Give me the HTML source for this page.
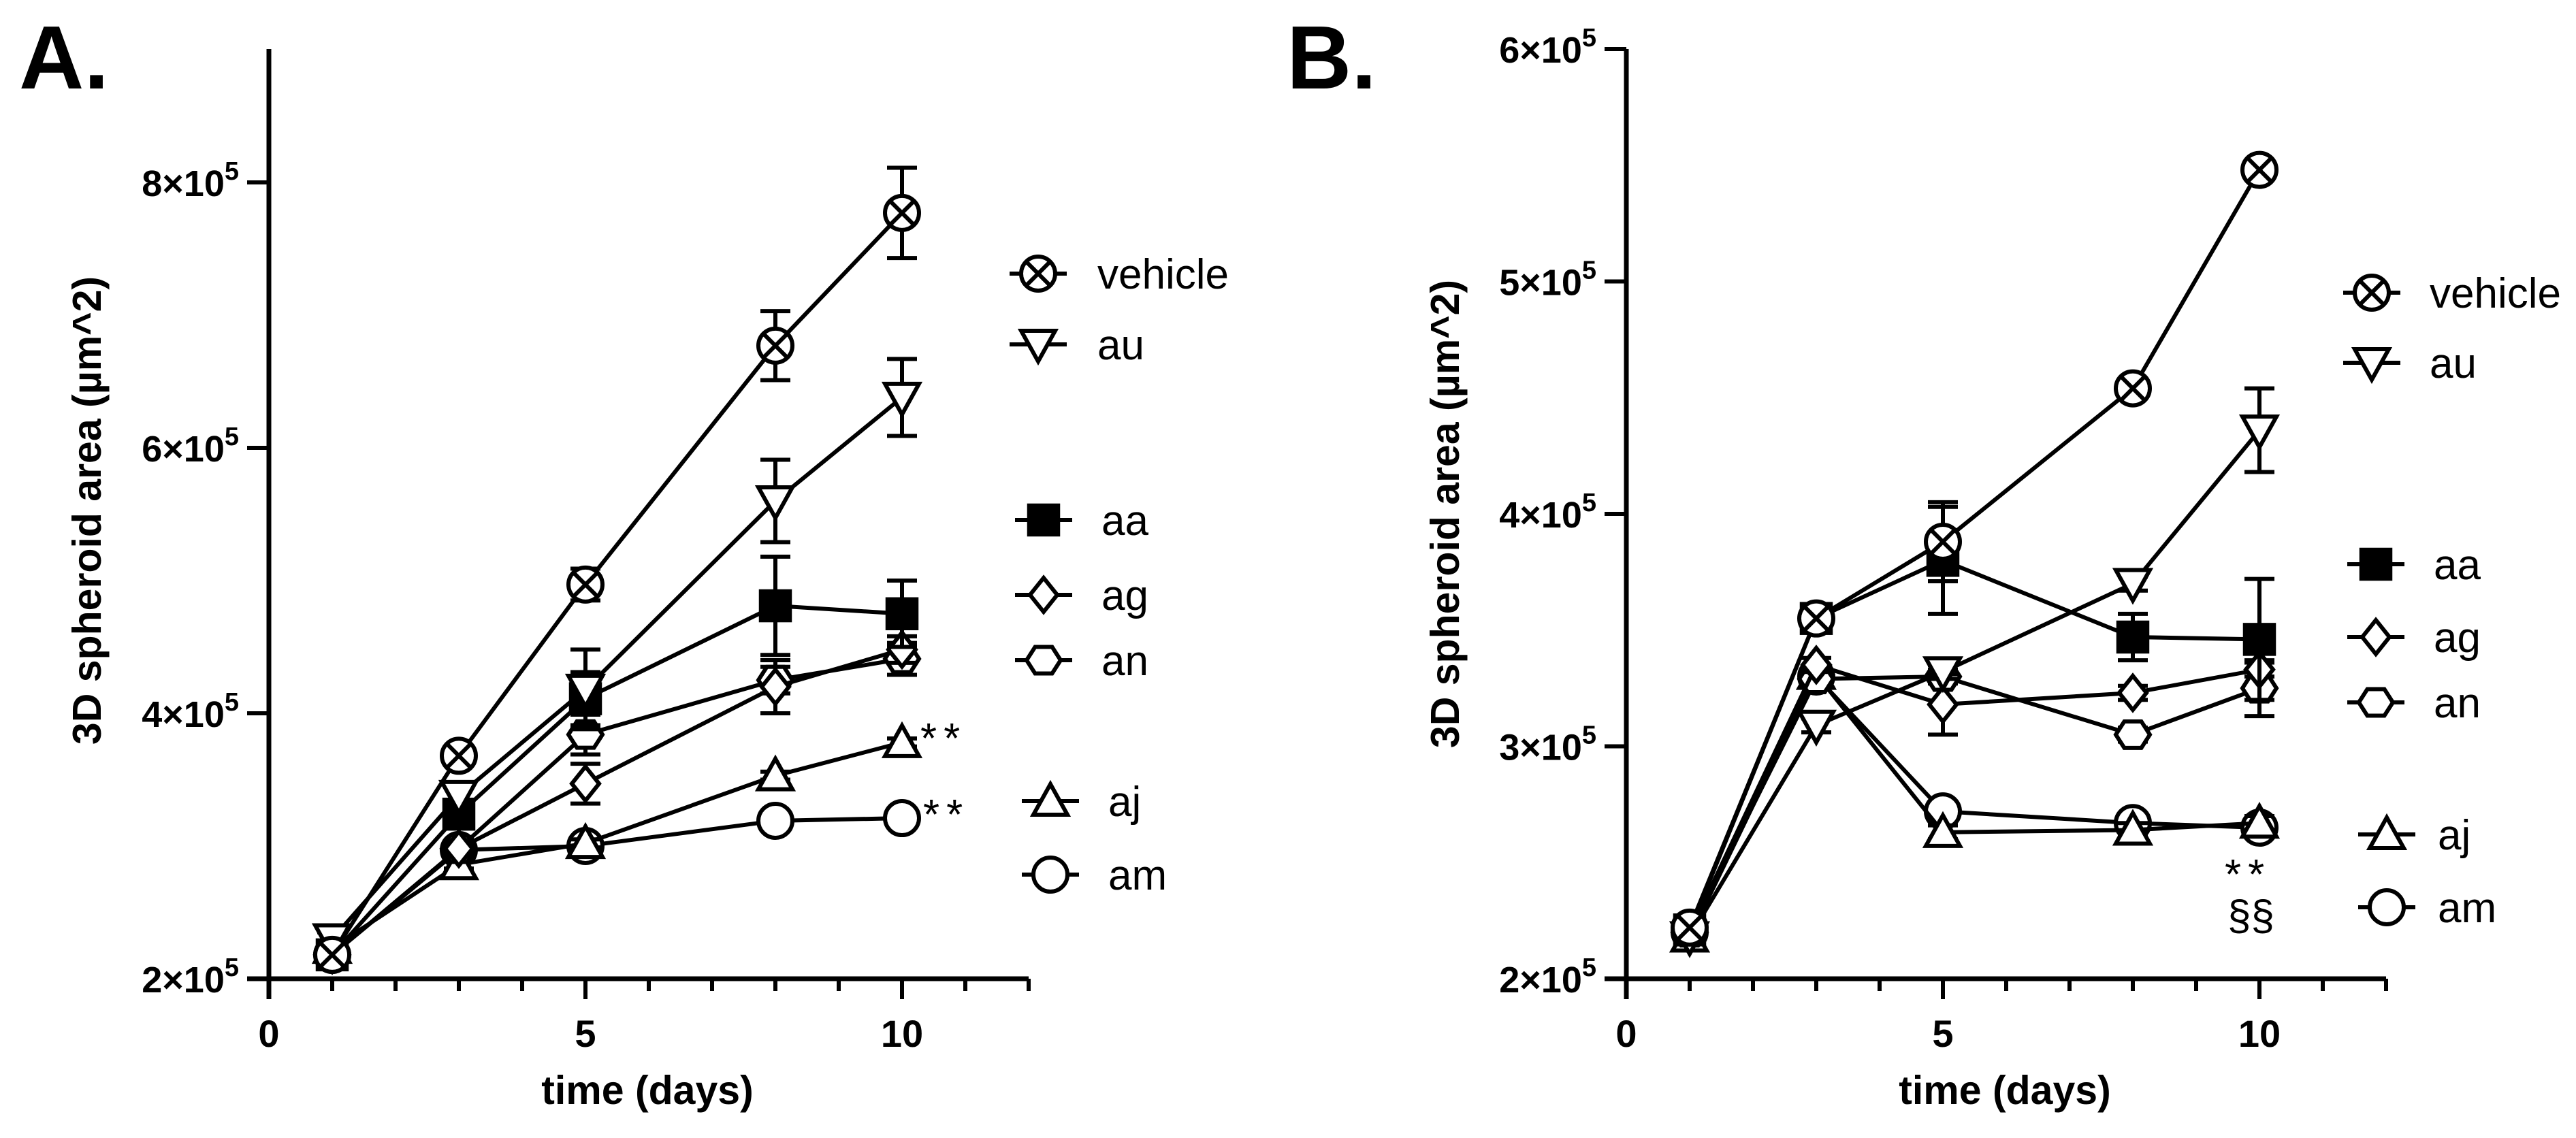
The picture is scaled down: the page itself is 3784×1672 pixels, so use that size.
<!DOCTYPE html>
<html><head><meta charset="utf-8"><style>
html,body{margin:0;padding:0;background:#fff;}
svg{display:block;font-family:"Liberation Sans",Arial,sans-serif;}
</style></head><body>
<svg id="fig" width="3784" height="1672" viewBox="0 0 3784 1672" xmlns="http://www.w3.org/2000/svg"></svg>
<script>
const days = [1, 3, 5, 8, 10];
const seriesNames = ["vehicle", "au", "aa", "ag", "an", "aj", "am"];
// Panel A values (x1e5 µm^2)
const aVehicle = [2.18, 3.68, 4.97, 6.77, 7.77];
const aAu      = [2.30, 3.38, 4.18, 5.60, 6.38];
const aAa      = [2.18, 3.24, 4.11, 4.81, 4.75];
const aAg      = [2.18, 2.98, 3.47, 4.20, 4.48];
const aAn      = [2.18, 2.98, 3.84, 4.25, 4.41];
const aAj      = [2.23, 2.86, 3.02, 3.53, 3.78];
const aAm      = [2.18, 2.97, 3.00, 3.19, 3.21];
const aErrVehicle = [0.05, 0.05, 0.12, 0.26, 0.34];
const aErrAu      = [0.05, 0.08, 0.30, 0.31, 0.29];
const aErrAa      = [0.04, 0.10, 0.20, 0.37, 0.25];
const aErrAg      = [0.03, 0.05, 0.15, 0.20, 0.10];
const aErrAn      = [0.03, 0.05, 0.15, 0.10, 0.12];
const aErrAj      = [0.03, 0.03, 0.03, 0.03, 0.03];
const aErrAm      = [0.03, 0.03, 0.03, 0.03, 0.03];
// Panel B values (x1e5 µm^2)
const bVehicle = [2.22, 3.55, 3.88, 4.54, 5.48];
const bAu      = [2.18, 3.09, 3.32, 3.70, 4.36];
const bAa      = [2.21, 3.55, 3.80, 3.47, 3.46];
const bAg      = [2.20, 3.35, 3.18, 3.23, 3.33];
const bAn      = [2.20, 3.29, 3.30, 3.05, 3.25];
const bAj      = [2.18, 3.31, 2.63, 2.64, 2.67];
const bAm      = [2.20, 3.30, 2.72, 2.67, 2.65];
const bErrVehicle = [0.03, 0.03, 0.17, 0.02, 0.02];
const bErrAu      = [0.03, 0.03, 0.03, 0.03, 0.18];
const bErrAa      = [0.03, 0.03, 0.23, 0.10, 0.26];
const bErrAg      = [0.03, 0.03, 0.13, 0.03, 0.03];
const bErrAn      = [0.03, 0.03, 0.03, 0.03, 0.12];
const bErrAj      = [0.03, 0.03, 0.03, 0.03, 0.03];
const bErrAm      = [0.03, 0.03, 0.03, 0.03, 0.03];
const aTickValues = [2, 4, 6, 8];
const bTickValues = [2, 3, 4, 5, 6];
const xTickLabels = [0, 5, 10];

const NS = "http://www.w3.org/2000/svg";
const svg = document.getElementById("fig");
function el(tag, attrs, parent) {
  const e = document.createElementNS(NS, tag);
  for (const k in attrs) e.setAttribute(k, attrs[k]);
  (parent || svg).appendChild(e);
  return e;
}
function marker(g, type, cx, cy, r) {
  const sw = 6;
  if (type === "vehicle" || type === "am") {
    el("circle", {cx, cy, r, fill: "#fff", stroke: "#000", "stroke-width": sw}, g);
    if (type === "vehicle") {
      const d = r * 0.7;
      el("path", {d: `M${cx-d},${cy-d}L${cx+d},${cy+d}M${cx+d},${cy-d}L${cx-d},${cy+d}`, stroke: "#000", "stroke-width": sw}, g);
    }
  } else if (type === "au") {
    el("polygon", {points: `${cx-r},${cy-r*0.8} ${cx+r},${cy-r*0.8} ${cx},${cy+r}`, fill: "#fff", stroke: "#000", "stroke-width": sw}, g);
  } else if (type === "aj") {
    el("polygon", {points: `${cx-r},${cy+r*0.8} ${cx+r},${cy+r*0.8} ${cx},${cy-r}`, fill: "#fff", stroke: "#000", "stroke-width": sw}, g);
  } else if (type === "aa") {
    el("rect", {x: cx-r*0.85, y: cy-r*0.85, width: r*1.7, height: r*1.7, fill: "#000", stroke: "#000", "stroke-width": sw}, g);
  } else if (type === "ag") {
    el("polygon", {points: `${cx},${cy-r} ${cx+r*0.8},${cy} ${cx},${cy+r} ${cx-r*0.8},${cy}`, fill: "#fff", stroke: "#000", "stroke-width": sw}, g);
  } else if (type === "an") {
    const p = [];
    for (let i = 0; i < 6; i++) { const a = Math.PI/3*i; p.push(`${cx+r*Math.cos(a)},${cy+r*0.9*Math.sin(a)}`); }
    el("polygon", {points: p.join(" "), fill: "#fff", stroke: "#000", "stroke-width": sw}, g);
  }
}

function panel(cfg) {
  const g = el("g", {});
  
  
  const X = d => cfg.x0 + d * 93;
  const Y = v => cfg.yBase - (v - 2) * cfg.yPer;
  const ax = el("g", {}, g);
  
  
  el("line", {x1: cfg.x0, y1: cfg.yTop, x2: cfg.x0, y2: cfg.yBase + 30, stroke: "#000", "stroke-width": 7}, ax);
  el("line", {x1: cfg.x0 - 32, y1: cfg.yBase, x2: X(12), y2: cfg.yBase, stroke: "#000", "stroke-width": 7}, ax);
  for (let d = 1; d <= 12; d++) {
    const len = (d % 5 === 0) ? 30 : 18;
    el("line", {x1: X(d), y1: cfg.yBase, x2: X(d), y2: cfg.yBase + len, stroke: "#000", "stroke-width": 6}, ax);
  }
  xTickLabels.forEach(t => {
    const tx = el("text", {x: X(t), y: cfg.yBase + 100, "font-size": 56, "font-weight": "bold", "text-anchor": "middle"}, ax);
    
    
    tx.textContent = t;
  });
  cfg.ticks.forEach(v => {
    el("line", {x1: cfg.x0 - 32, y1: Y(v), x2: cfg.x0, y2: Y(v), stroke: "#000", "stroke-width": 6}, ax);
    const tx = el("text", {x: cfg.x0 - 44, y: Y(v) + 20, "font-size": 54, "font-weight": "bold", "text-anchor": "end"}, ax);
    
    
    tx.innerHTML = v + '×10<tspan dy="-24" font-size="38">5</tspan>';
  });
  const xt = el("text", {x: cfg.x0 + 556, y: 1622, "font-size": 59, "font-weight": "bold", "text-anchor": "middle"}, g);
  
  
  xt.textContent = "time (days)";
  const yt = el("text", {x: 0, y: 0, "font-size": 59, "font-weight": "bold", "text-anchor": "middle", transform: `translate(${cfg.yTitleX},${cfg.yTitleY}) rotate(-90)`}, g);
  
  
  yt.textContent = "3D spheroid area (µm^2)";
  const pl = el("text", {x: cfg.labelX, y: 130, "font-size": 132, "font-weight": "bold"}, g);
  
  
  pl.textContent = cfg.label;
  const order = ["am", "aj", "an", "ag", "aa", "au", "vehicle"];
  order.forEach(n => {
    const i = seriesNames.indexOf(n);
    const vals = cfg.vals[i], errs = cfg.errs[i];
    const sg = el("g", {}, g);
    
    
    el("polyline", {points: days.map((d, j) => `${X(d)},${Y(vals[j])}`).join(" "), fill: "none", stroke: "#000", "stroke-width": 6}, sg);
    days.forEach((d, j) => {
      const x = X(d), y1 = Y(vals[j] + errs[j]), y2 = Y(vals[j] - errs[j]);
      el("path", {d: `M${x},${y1}L${x},${y2}M${x-22},${y1}L${x+22},${y1}M${x-22},${y2}L${x+22},${y2}`, stroke: "#000", "stroke-width": 6, fill: "none"}, sg);
    });
    days.forEach((d, j) => {
      const mg = el("g", {}, sg);
      
      
      marker(mg, n, X(d), Y(vals[j]), 25);
    });
  });
  cfg.legend.forEach((L, i) => {
    const lg = el("g", {}, g);
    
    
    el("line", {x1: L[0] - 42, y1: L[1], x2: L[0] + 42, y2: L[1], stroke: "#000", "stroke-width": 6}, lg);
    marker(lg, seriesNames[i], L[0], L[1], 25);
    const t = el("text", {x: L[2], y: L[1] + 22, "font-size": 62}, lg);
    t.textContent = seriesNames[i];
  });
  cfg.notes.forEach(nt => {
    const t = el("text", {x: nt[0], y: nt[1], "font-size": 62, "letter-spacing": nt[3]}, g);
    
    
    t.textContent = nt[2];
  });
}

panel({
  name: "panel-a", label: "A.", labelX: 28, x0: 395, yBase: 1438, yPer: 195, yTop: 72,
  ticks: aTickValues, yTitleX: 148, yTitleY: 750,
  vals: [aVehicle, aAu, aAa, aAg, aAn, aAj, aAm],
  errs: [aErrVehicle, aErrAu, aErrAa, aErrAg, aErrAn, aErrAj, aErrAm],
  legend: [[1525, 402, 1612], [1525, 506, 1612], [1533, 764, 1618], [1533, 874, 1618], [1533, 970, 1618], [1543, 1177, 1628], [1543, 1285, 1628]],
  notes: [[1352, 1106, "**", 10], [1356, 1218, "**", 10]]
});
panel({
  name: "panel-b", label: "B.", labelX: 1890, x0: 2389, yBase: 1438, yPer: 341.5, yTop: 72,
  ticks: bTickValues, yTitleX: 2143, yTitleY: 755,
  vals: [bVehicle, bAu, bAa, bAg, bAn, bAj, bAm],
  errs: [bErrVehicle, bErrAu, bErrAa, bErrAg, bErrAn, bErrAj, bErrAm],
  legend: [[3484, 430, 3569], [3484, 533, 3569], [3490, 829, 3575], [3490, 936, 3575], [3490, 1032, 3575], [3506, 1226, 3581], [3506, 1333, 3581]],
  notes: [[3268, 1306, "**", 10], [3272, 1366, "§§", 0]]
});
</script>
</body></html>
